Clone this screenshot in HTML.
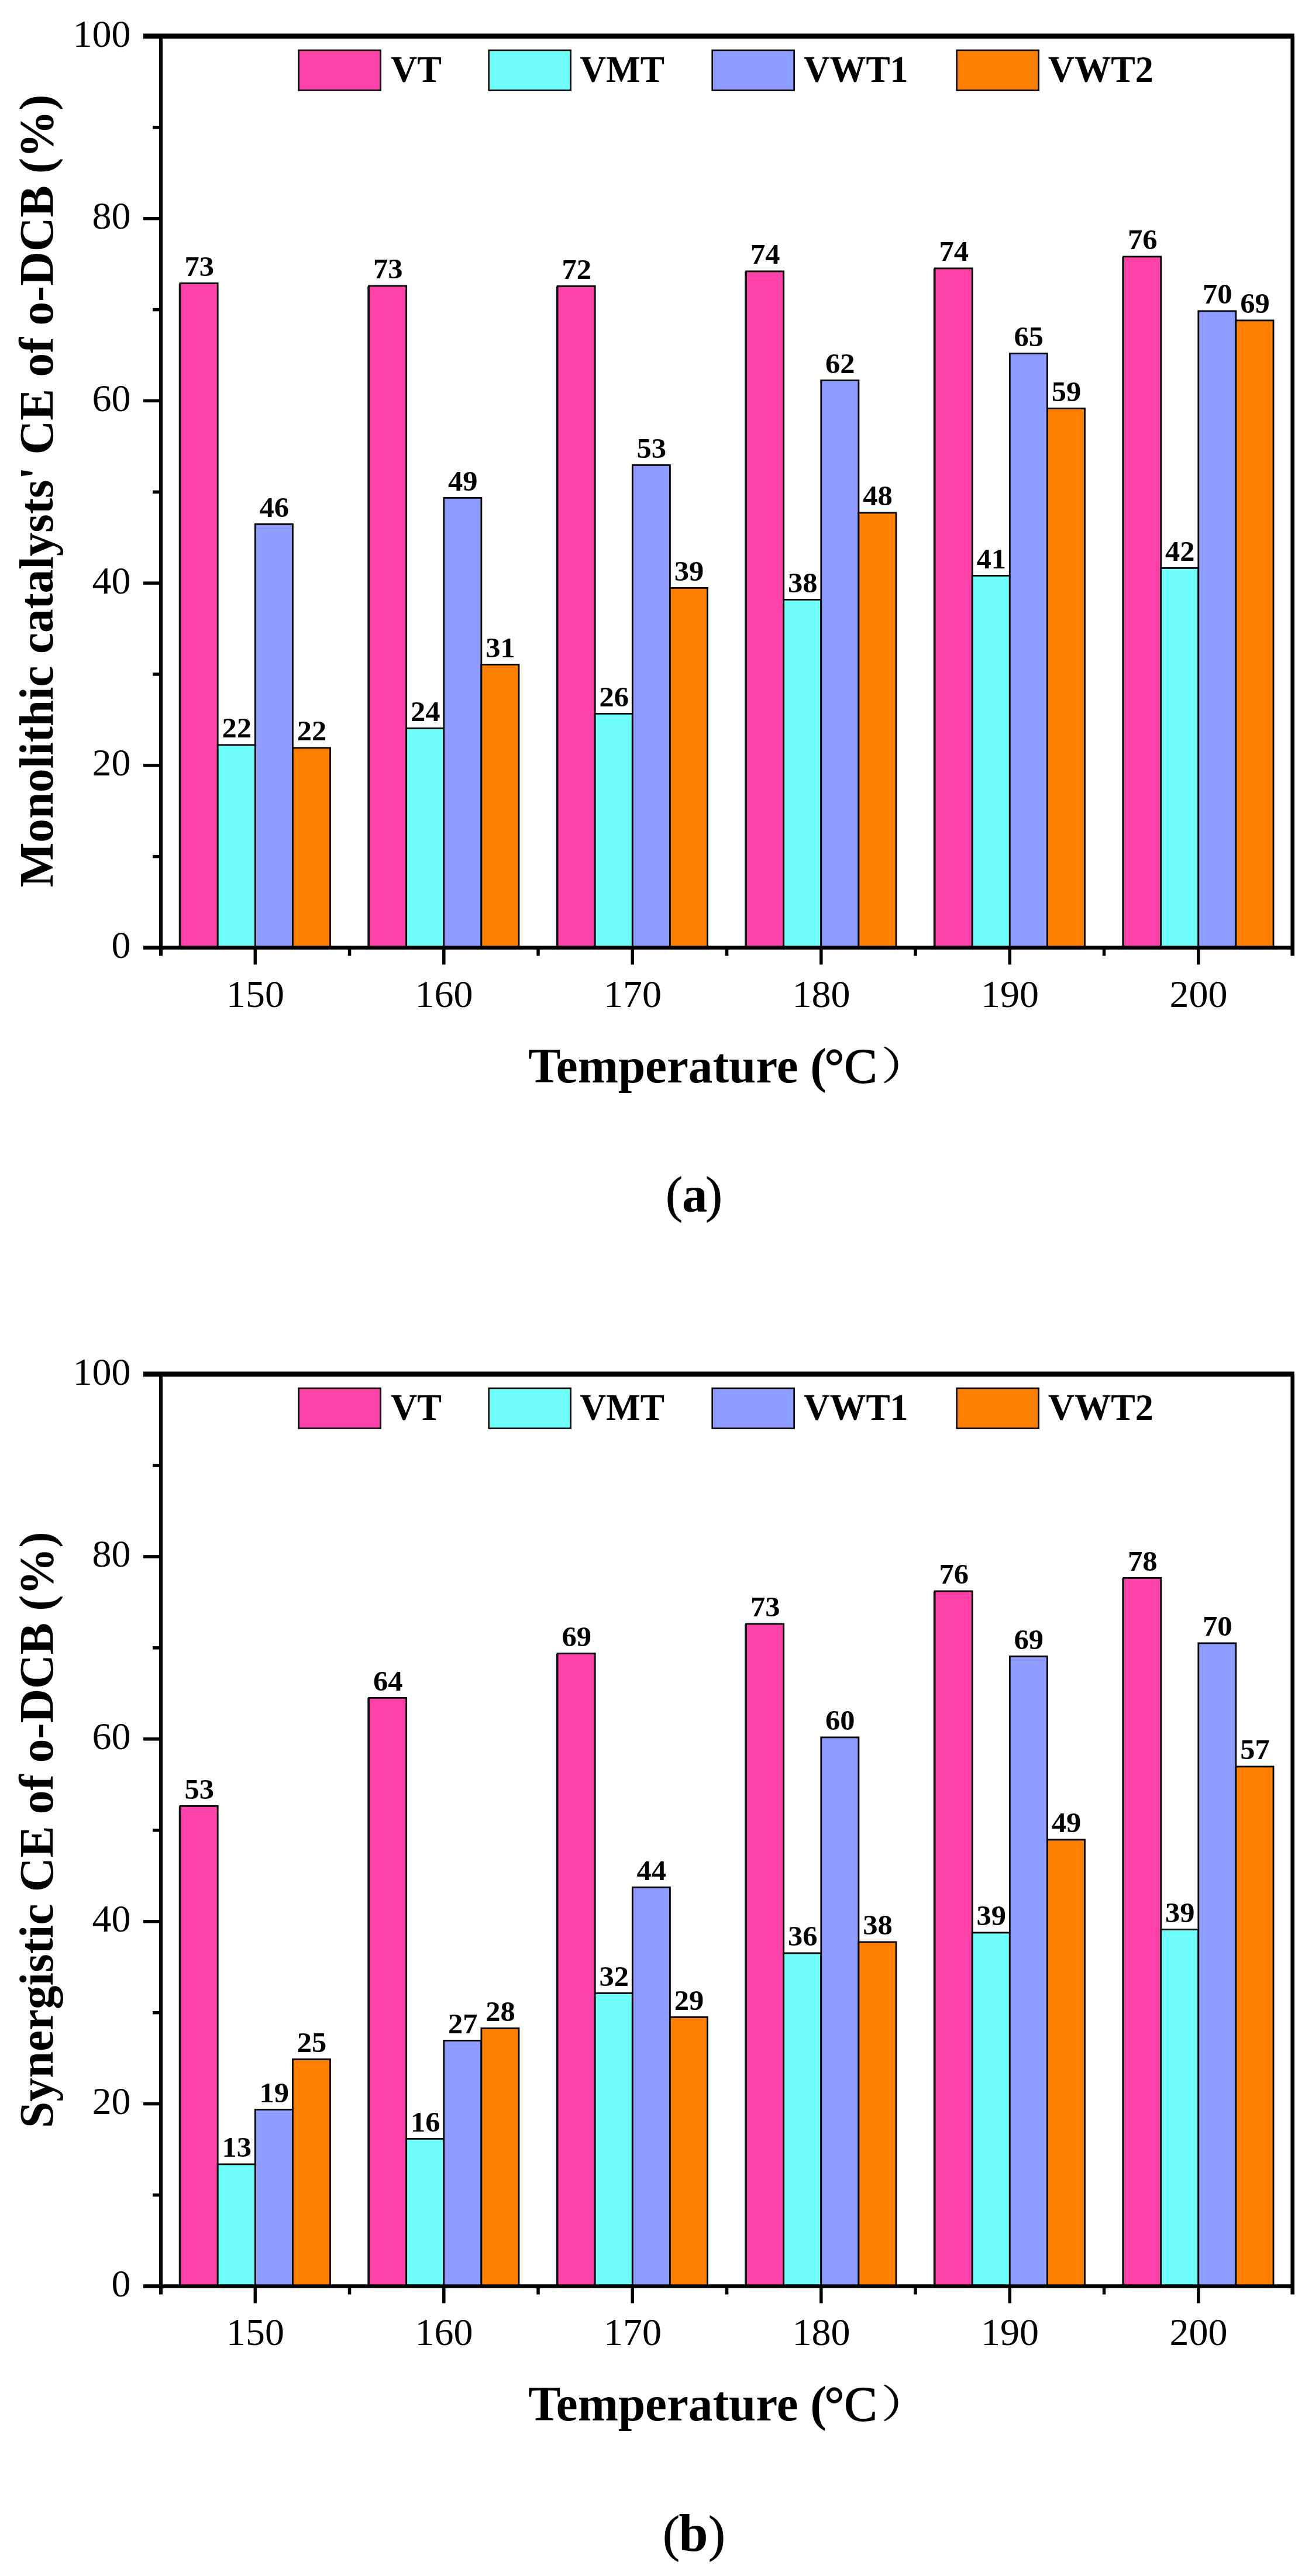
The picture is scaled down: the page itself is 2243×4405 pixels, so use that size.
<!DOCTYPE html>
<html lang="en">
<head>
<meta charset="utf-8">
<title>Catalytic efficiency of o-DCB</title>
<style>
html,body{margin:0;padding:0;background:#fff;}
svg{display:block;}
text{white-space:pre;}
</style>
</head>
<body>
<svg width="2243" height="4405" viewBox="0 0 2243 4405">
<rect width="2243" height="4405" fill="#fff"/>
<g id="chart-a">
<rect x="308.1" y="484.4" width="64.1" height="1136.1" fill="#FF42AA" stroke="#000" stroke-width="2.8"/>
<rect x="372.2" y="1273.9" width="64.1" height="346.6" fill="#70FFFA" stroke="#000" stroke-width="2.8"/>
<rect x="436.3" y="896.4" width="64.1" height="724.1" fill="#8F9CFF" stroke="#000" stroke-width="2.8"/>
<rect x="500.4" y="1278.9" width="64.1" height="341.6" fill="#FF8000" stroke="#000" stroke-width="2.8"/>
<line x1="307.4" y1="485" x2="307.4" y2="1620.5" stroke="#111" stroke-width="3.2"/>
<rect x="630.6" y="488.9" width="64.1" height="1131.6" fill="#FF42AA" stroke="#000" stroke-width="2.8"/>
<rect x="694.7" y="1245.4" width="64.1" height="375.1" fill="#70FFFA" stroke="#000" stroke-width="2.8"/>
<rect x="758.8" y="851.4" width="64.1" height="769.1" fill="#8F9CFF" stroke="#000" stroke-width="2.8"/>
<rect x="822.9" y="1136.4" width="64.1" height="484.1" fill="#FF8000" stroke="#000" stroke-width="2.8"/>
<line x1="629.9" y1="489.5" x2="629.9" y2="1620.5" stroke="#111" stroke-width="3.2"/>
<rect x="953.1" y="489.4" width="64.1" height="1131.1" fill="#FF42AA" stroke="#000" stroke-width="2.8"/>
<rect x="1017.2" y="1220.4" width="64.1" height="400.1" fill="#70FFFA" stroke="#000" stroke-width="2.8"/>
<rect x="1081.3" y="795.4" width="64.1" height="825.1" fill="#8F9CFF" stroke="#000" stroke-width="2.8"/>
<rect x="1145.4" y="1005.4" width="64.1" height="615.1" fill="#FF8000" stroke="#000" stroke-width="2.8"/>
<line x1="952.4" y1="490" x2="952.4" y2="1620.5" stroke="#111" stroke-width="3.2"/>
<rect x="1275.6" y="463.9" width="64.1" height="1156.6" fill="#FF42AA" stroke="#000" stroke-width="2.8"/>
<rect x="1339.7" y="1025.4" width="64.1" height="595.1" fill="#70FFFA" stroke="#000" stroke-width="2.8"/>
<rect x="1403.8" y="650.4" width="64.1" height="970.1" fill="#8F9CFF" stroke="#000" stroke-width="2.8"/>
<rect x="1467.9" y="876.9" width="64.1" height="743.6" fill="#FF8000" stroke="#000" stroke-width="2.8"/>
<line x1="1274.9" y1="464.5" x2="1274.9" y2="1620.5" stroke="#111" stroke-width="3.2"/>
<rect x="1598.1" y="458.9" width="64.1" height="1161.6" fill="#FF42AA" stroke="#000" stroke-width="2.8"/>
<rect x="1662.2" y="984.4" width="64.1" height="636.1" fill="#70FFFA" stroke="#000" stroke-width="2.8"/>
<rect x="1726.3" y="604.4" width="64.1" height="1016.1" fill="#8F9CFF" stroke="#000" stroke-width="2.8"/>
<rect x="1790.4" y="698.4" width="64.1" height="922.1" fill="#FF8000" stroke="#000" stroke-width="2.8"/>
<line x1="1597.4" y1="459.5" x2="1597.4" y2="1620.5" stroke="#111" stroke-width="3.2"/>
<rect x="1920.6" y="438.9" width="64.1" height="1181.6" fill="#FF42AA" stroke="#000" stroke-width="2.8"/>
<rect x="1984.7" y="971.4" width="64.1" height="649.1" fill="#70FFFA" stroke="#000" stroke-width="2.8"/>
<rect x="2048.8" y="531.9" width="64.1" height="1088.6" fill="#8F9CFF" stroke="#000" stroke-width="2.8"/>
<rect x="2112.9" y="547.9" width="64.1" height="1072.6" fill="#FF8000" stroke="#000" stroke-width="2.8"/>
<line x1="1919.9" y1="439.5" x2="1919.9" y2="1620.5" stroke="#111" stroke-width="3.2"/>
<g font-family='"Liberation Serif", "Noto Serif CJK SC", serif' font-weight="bold" font-size="47.5" text-anchor="middle" fill="#000">
<text x="340.65" y="471.5" textLength="50.5" lengthAdjust="spacingAndGlyphs">73</text>
<text x="404.75" y="1261" textLength="50.5" lengthAdjust="spacingAndGlyphs">22</text>
<text x="468.85" y="883.5" textLength="50.5" lengthAdjust="spacingAndGlyphs">46</text>
<text x="532.95" y="1266" textLength="50.5" lengthAdjust="spacingAndGlyphs">22</text>
<text x="663.15" y="476" textLength="50.5" lengthAdjust="spacingAndGlyphs">73</text>
<text x="727.25" y="1232.5" textLength="50.5" lengthAdjust="spacingAndGlyphs">24</text>
<text x="791.35" y="838.5" textLength="50.5" lengthAdjust="spacingAndGlyphs">49</text>
<text x="855.45" y="1123.5" textLength="50.5" lengthAdjust="spacingAndGlyphs">31</text>
<text x="985.65" y="476.5" textLength="50.5" lengthAdjust="spacingAndGlyphs">72</text>
<text x="1049.75" y="1207.5" textLength="50.5" lengthAdjust="spacingAndGlyphs">26</text>
<text x="1113.85" y="782.5" textLength="50.5" lengthAdjust="spacingAndGlyphs">53</text>
<text x="1177.95" y="992.5" textLength="50.5" lengthAdjust="spacingAndGlyphs">39</text>
<text x="1308.15" y="451" textLength="50.5" lengthAdjust="spacingAndGlyphs">74</text>
<text x="1372.25" y="1012.5" textLength="50.5" lengthAdjust="spacingAndGlyphs">38</text>
<text x="1436.35" y="637.5" textLength="50.5" lengthAdjust="spacingAndGlyphs">62</text>
<text x="1500.45" y="864" textLength="50.5" lengthAdjust="spacingAndGlyphs">48</text>
<text x="1630.65" y="446" textLength="50.5" lengthAdjust="spacingAndGlyphs">74</text>
<text x="1694.75" y="971.5" textLength="50.5" lengthAdjust="spacingAndGlyphs">41</text>
<text x="1758.85" y="591.5" textLength="50.5" lengthAdjust="spacingAndGlyphs">65</text>
<text x="1822.95" y="685.5" textLength="50.5" lengthAdjust="spacingAndGlyphs">59</text>
<text x="1953.15" y="426" textLength="50.5" lengthAdjust="spacingAndGlyphs">76</text>
<text x="2017.25" y="958.5" textLength="50.5" lengthAdjust="spacingAndGlyphs">42</text>
<text x="2081.35" y="519" textLength="50.5" lengthAdjust="spacingAndGlyphs">70</text>
<text x="2145.45" y="535" textLength="50.5" lengthAdjust="spacingAndGlyphs">69</text>
</g>
<g stroke="#000" fill="none" stroke-linecap="butt">
<line x1="245" y1="61.7" x2="2212.7" y2="61.7" stroke-width="8.4"/>
<line x1="245" y1="1620.5" x2="2212.7" y2="1620.5" stroke-width="6.6"/>
<line x1="275" y1="62" x2="275" y2="1634.5" stroke-width="6.0"/>
<line x1="2209.7" y1="62" x2="2209.7" y2="1634.5" stroke-width="6.6"/>
<line x1="261" y1="1464.65" x2="275" y2="1464.65" stroke-width="5.5"/>
<line x1="245" y1="1308.8" x2="275" y2="1308.8" stroke-width="5.5"/>
<line x1="261" y1="1152.95" x2="275" y2="1152.95" stroke-width="5.5"/>
<line x1="245" y1="997.1" x2="275" y2="997.1" stroke-width="5.5"/>
<line x1="261" y1="841.25" x2="275" y2="841.25" stroke-width="5.5"/>
<line x1="245" y1="685.4" x2="275" y2="685.4" stroke-width="5.5"/>
<line x1="261" y1="529.55" x2="275" y2="529.55" stroke-width="5.5"/>
<line x1="245" y1="373.7" x2="275" y2="373.7" stroke-width="5.5"/>
<line x1="261" y1="217.85" x2="275" y2="217.85" stroke-width="5.5"/>
<line x1="436.3" y1="1620.5" x2="436.3" y2="1649.5" stroke-width="5.5"/>
<line x1="597.55" y1="1620.5" x2="597.55" y2="1634.5" stroke-width="5.5"/>
<line x1="758.8" y1="1620.5" x2="758.8" y2="1649.5" stroke-width="5.5"/>
<line x1="920.05" y1="1620.5" x2="920.05" y2="1634.5" stroke-width="5.5"/>
<line x1="1081.3" y1="1620.5" x2="1081.3" y2="1649.5" stroke-width="5.5"/>
<line x1="1242.55" y1="1620.5" x2="1242.55" y2="1634.5" stroke-width="5.5"/>
<line x1="1403.8" y1="1620.5" x2="1403.8" y2="1649.5" stroke-width="5.5"/>
<line x1="1565.05" y1="1620.5" x2="1565.05" y2="1634.5" stroke-width="5.5"/>
<line x1="1726.3" y1="1620.5" x2="1726.3" y2="1649.5" stroke-width="5.5"/>
<line x1="1887.55" y1="1620.5" x2="1887.55" y2="1634.5" stroke-width="5.5"/>
<line x1="2048.8" y1="1620.5" x2="2048.8" y2="1649.5" stroke-width="5.5"/>
</g>
<g font-family='"Liberation Serif", "Noto Serif CJK SC", serif' font-size="66" fill="#000">
<text x="223.5" y="1638" text-anchor="end">0</text>
<text x="223.5" y="1326.3" text-anchor="end">20</text>
<text x="223.5" y="1014.6" text-anchor="end">40</text>
<text x="223.5" y="702.9" text-anchor="end">60</text>
<text x="223.5" y="391.2" text-anchor="end">80</text>
<text x="223.5" y="79.5" text-anchor="end">100</text>
<text x="436.6" y="1722" text-anchor="middle">150</text>
<text x="759.1" y="1722" text-anchor="middle">160</text>
<text x="1081.6" y="1722" text-anchor="middle">170</text>
<text x="1404.1" y="1722" text-anchor="middle">180</text>
<text x="1726.6" y="1722" text-anchor="middle">190</text>
<text x="2049.1" y="1722" text-anchor="middle">200</text>
</g>
<g font-family='"Liberation Serif", "Noto Serif CJK SC", serif' font-weight="bold" font-size="64" fill="#000">
<rect x="510.7" y="85.9" width="139.9" height="68.6" fill="#FF42AA" stroke="#000" stroke-width="2.6"/>
<text x="668" y="140" textLength="87" lengthAdjust="spacingAndGlyphs">VT</text>
<rect x="835.7" y="85.9" width="139.9" height="68.6" fill="#70FFFA" stroke="#000" stroke-width="2.6"/>
<text x="991.5" y="140" textLength="144.5" lengthAdjust="spacingAndGlyphs">VMT</text>
<rect x="1217.7" y="85.9" width="139.9" height="68.6" fill="#8F9CFF" stroke="#000" stroke-width="2.6"/>
<text x="1374" y="140" textLength="178.5" lengthAdjust="spacingAndGlyphs">VWT1</text>
<rect x="1635.7" y="85.9" width="139.9" height="68.6" fill="#FF8000" stroke="#000" stroke-width="2.6"/>
<text x="1792" y="140" textLength="180" lengthAdjust="spacingAndGlyphs">VWT2</text>
</g>
<g font-family='"Liberation Serif", "Noto Serif CJK SC", serif' font-weight="bold" font-size="84.6" fill="#000">
<text transform="translate(89.5 839.55) rotate(-90)" font-size="82" text-anchor="middle" textLength="1355.5" lengthAdjust="spacingAndGlyphs">Monolithic catalysts' CE of o-DCB (%)</text>
<text x="903" y="1850.5" textLength="510" lengthAdjust="spacingAndGlyphs">Temperature (</text>
<text x="1409.5" y="1851.5" font-weight="normal" font-size="84.6" stroke="#000" stroke-width="1.4">°C</text>
<text x="1506.5" y="1846" font-weight="normal" font-size="66" textLength="82" lengthAdjust="spacingAndGlyphs" stroke="#000" stroke-width="0.6" font-family='"Noto Serif CJK SC", "Liberation Serif", serif'>）</text>
</g>
<g font-family='"Liberation Serif", "Noto Serif CJK SC", serif' font-size="87" fill="#000" stroke="#000" stroke-width="0.7">
<text x="1138" y="2072">(</text>
<text x="1166" y="2072" font-size="87" font-weight="bold" stroke="none">a</text>
<text x="1206" y="2072">)</text>
</g>
</g>
<g id="chart-b" transform="translate(0 2288)">
<rect x="308.1" y="800.4" width="64.1" height="821.1" fill="#FF42AA" stroke="#000" stroke-width="2.8"/>
<rect x="372.2" y="1412.9" width="64.1" height="208.6" fill="#70FFFA" stroke="#000" stroke-width="2.8"/>
<rect x="436.3" y="1319.4" width="64.1" height="302.1" fill="#8F9CFF" stroke="#000" stroke-width="2.8"/>
<rect x="500.4" y="1233.4" width="64.1" height="388.1" fill="#FF8000" stroke="#000" stroke-width="2.8"/>
<line x1="307.4" y1="801" x2="307.4" y2="1621.5" stroke="#111" stroke-width="3.2"/>
<rect x="630.6" y="615.4" width="64.1" height="1006.1" fill="#FF42AA" stroke="#000" stroke-width="2.8"/>
<rect x="694.7" y="1369.4" width="64.1" height="252.1" fill="#70FFFA" stroke="#000" stroke-width="2.8"/>
<rect x="758.8" y="1201.4" width="64.1" height="420.1" fill="#8F9CFF" stroke="#000" stroke-width="2.8"/>
<rect x="822.9" y="1180.4" width="64.1" height="441.1" fill="#FF8000" stroke="#000" stroke-width="2.8"/>
<line x1="629.9" y1="616" x2="629.9" y2="1621.5" stroke="#111" stroke-width="3.2"/>
<rect x="953.1" y="539.4" width="64.1" height="1082.1" fill="#FF42AA" stroke="#000" stroke-width="2.8"/>
<rect x="1017.2" y="1120.4" width="64.1" height="501.1" fill="#70FFFA" stroke="#000" stroke-width="2.8"/>
<rect x="1081.3" y="939.4" width="64.1" height="682.1" fill="#8F9CFF" stroke="#000" stroke-width="2.8"/>
<rect x="1145.4" y="1161.4" width="64.1" height="460.1" fill="#FF8000" stroke="#000" stroke-width="2.8"/>
<line x1="952.4" y1="540" x2="952.4" y2="1621.5" stroke="#111" stroke-width="3.2"/>
<rect x="1275.6" y="488.9" width="64.1" height="1132.6" fill="#FF42AA" stroke="#000" stroke-width="2.8"/>
<rect x="1339.7" y="1051.9" width="64.1" height="569.6" fill="#70FFFA" stroke="#000" stroke-width="2.8"/>
<rect x="1403.8" y="682.9" width="64.1" height="938.6" fill="#8F9CFF" stroke="#000" stroke-width="2.8"/>
<rect x="1467.9" y="1032.9" width="64.1" height="588.6" fill="#FF8000" stroke="#000" stroke-width="2.8"/>
<line x1="1274.9" y1="489.5" x2="1274.9" y2="1621.5" stroke="#111" stroke-width="3.2"/>
<rect x="1598.1" y="432.9" width="64.1" height="1188.6" fill="#FF42AA" stroke="#000" stroke-width="2.8"/>
<rect x="1662.2" y="1016.9" width="64.1" height="604.6" fill="#70FFFA" stroke="#000" stroke-width="2.8"/>
<rect x="1726.3" y="544.4" width="64.1" height="1077.1" fill="#8F9CFF" stroke="#000" stroke-width="2.8"/>
<rect x="1790.4" y="857.9" width="64.1" height="763.6" fill="#FF8000" stroke="#000" stroke-width="2.8"/>
<line x1="1597.4" y1="433.5" x2="1597.4" y2="1621.5" stroke="#111" stroke-width="3.2"/>
<rect x="1920.6" y="410.4" width="64.1" height="1211.1" fill="#FF42AA" stroke="#000" stroke-width="2.8"/>
<rect x="1984.7" y="1011.4" width="64.1" height="610.1" fill="#70FFFA" stroke="#000" stroke-width="2.8"/>
<rect x="2048.8" y="521.9" width="64.1" height="1099.6" fill="#8F9CFF" stroke="#000" stroke-width="2.8"/>
<rect x="2112.9" y="732.9" width="64.1" height="888.6" fill="#FF8000" stroke="#000" stroke-width="2.8"/>
<line x1="1919.9" y1="411" x2="1919.9" y2="1621.5" stroke="#111" stroke-width="3.2"/>
<g font-family='"Liberation Serif", "Noto Serif CJK SC", serif' font-weight="bold" font-size="47.5" text-anchor="middle" fill="#000">
<text x="340.65" y="787.5" textLength="50.5" lengthAdjust="spacingAndGlyphs">53</text>
<text x="404.75" y="1400" textLength="50.5" lengthAdjust="spacingAndGlyphs">13</text>
<text x="468.85" y="1306.5" textLength="50.5" lengthAdjust="spacingAndGlyphs">19</text>
<text x="532.95" y="1220.5" textLength="50.5" lengthAdjust="spacingAndGlyphs">25</text>
<text x="663.15" y="602.5" textLength="50.5" lengthAdjust="spacingAndGlyphs">64</text>
<text x="727.25" y="1356.5" textLength="50.5" lengthAdjust="spacingAndGlyphs">16</text>
<text x="791.35" y="1188.5" textLength="50.5" lengthAdjust="spacingAndGlyphs">27</text>
<text x="855.45" y="1167.5" textLength="50.5" lengthAdjust="spacingAndGlyphs">28</text>
<text x="985.65" y="526.5" textLength="50.5" lengthAdjust="spacingAndGlyphs">69</text>
<text x="1049.75" y="1107.5" textLength="50.5" lengthAdjust="spacingAndGlyphs">32</text>
<text x="1113.85" y="926.5" textLength="50.5" lengthAdjust="spacingAndGlyphs">44</text>
<text x="1177.95" y="1148.5" textLength="50.5" lengthAdjust="spacingAndGlyphs">29</text>
<text x="1308.15" y="476" textLength="50.5" lengthAdjust="spacingAndGlyphs">73</text>
<text x="1372.25" y="1039" textLength="50.5" lengthAdjust="spacingAndGlyphs">36</text>
<text x="1436.35" y="670" textLength="50.5" lengthAdjust="spacingAndGlyphs">60</text>
<text x="1500.45" y="1020" textLength="50.5" lengthAdjust="spacingAndGlyphs">38</text>
<text x="1630.65" y="420" textLength="50.5" lengthAdjust="spacingAndGlyphs">76</text>
<text x="1694.75" y="1004" textLength="50.5" lengthAdjust="spacingAndGlyphs">39</text>
<text x="1758.85" y="531.5" textLength="50.5" lengthAdjust="spacingAndGlyphs">69</text>
<text x="1822.95" y="845" textLength="50.5" lengthAdjust="spacingAndGlyphs">49</text>
<text x="1953.15" y="397.5" textLength="50.5" lengthAdjust="spacingAndGlyphs">78</text>
<text x="2017.25" y="998.5" textLength="50.5" lengthAdjust="spacingAndGlyphs">39</text>
<text x="2081.35" y="509" textLength="50.5" lengthAdjust="spacingAndGlyphs">70</text>
<text x="2145.45" y="720" textLength="50.5" lengthAdjust="spacingAndGlyphs">57</text>
</g>
<g stroke="#000" fill="none" stroke-linecap="butt">
<line x1="245" y1="61.7" x2="2212.7" y2="61.7" stroke-width="8.4"/>
<line x1="245" y1="1621.5" x2="2212.7" y2="1621.5" stroke-width="6.6"/>
<line x1="275" y1="62" x2="275" y2="1635.5" stroke-width="6.0"/>
<line x1="2209.7" y1="62" x2="2209.7" y2="1635.5" stroke-width="6.6"/>
<line x1="261" y1="1465.55" x2="275" y2="1465.55" stroke-width="5.5"/>
<line x1="245" y1="1309.6" x2="275" y2="1309.6" stroke-width="5.5"/>
<line x1="261" y1="1153.65" x2="275" y2="1153.65" stroke-width="5.5"/>
<line x1="245" y1="997.7" x2="275" y2="997.7" stroke-width="5.5"/>
<line x1="261" y1="841.75" x2="275" y2="841.75" stroke-width="5.5"/>
<line x1="245" y1="685.8" x2="275" y2="685.8" stroke-width="5.5"/>
<line x1="261" y1="529.85" x2="275" y2="529.85" stroke-width="5.5"/>
<line x1="245" y1="373.9" x2="275" y2="373.9" stroke-width="5.5"/>
<line x1="261" y1="217.95" x2="275" y2="217.95" stroke-width="5.5"/>
<line x1="436.3" y1="1621.5" x2="436.3" y2="1650.5" stroke-width="5.5"/>
<line x1="597.55" y1="1621.5" x2="597.55" y2="1635.5" stroke-width="5.5"/>
<line x1="758.8" y1="1621.5" x2="758.8" y2="1650.5" stroke-width="5.5"/>
<line x1="920.05" y1="1621.5" x2="920.05" y2="1635.5" stroke-width="5.5"/>
<line x1="1081.3" y1="1621.5" x2="1081.3" y2="1650.5" stroke-width="5.5"/>
<line x1="1242.55" y1="1621.5" x2="1242.55" y2="1635.5" stroke-width="5.5"/>
<line x1="1403.8" y1="1621.5" x2="1403.8" y2="1650.5" stroke-width="5.5"/>
<line x1="1565.05" y1="1621.5" x2="1565.05" y2="1635.5" stroke-width="5.5"/>
<line x1="1726.3" y1="1621.5" x2="1726.3" y2="1650.5" stroke-width="5.5"/>
<line x1="1887.55" y1="1621.5" x2="1887.55" y2="1635.5" stroke-width="5.5"/>
<line x1="2048.8" y1="1621.5" x2="2048.8" y2="1650.5" stroke-width="5.5"/>
</g>
<g font-family='"Liberation Serif", "Noto Serif CJK SC", serif' font-size="66" fill="#000">
<text x="223.5" y="1639" text-anchor="end">0</text>
<text x="223.5" y="1327.1" text-anchor="end">20</text>
<text x="223.5" y="1015.2" text-anchor="end">40</text>
<text x="223.5" y="703.3" text-anchor="end">60</text>
<text x="223.5" y="391.4" text-anchor="end">80</text>
<text x="223.5" y="79.5" text-anchor="end">100</text>
<text x="436.6" y="1722" text-anchor="middle">150</text>
<text x="759.1" y="1722" text-anchor="middle">160</text>
<text x="1081.6" y="1722" text-anchor="middle">170</text>
<text x="1404.1" y="1722" text-anchor="middle">180</text>
<text x="1726.6" y="1722" text-anchor="middle">190</text>
<text x="2049.1" y="1722" text-anchor="middle">200</text>
</g>
<g font-family='"Liberation Serif", "Noto Serif CJK SC", serif' font-weight="bold" font-size="64" fill="#000">
<rect x="510.7" y="85.9" width="139.9" height="68.6" fill="#FF42AA" stroke="#000" stroke-width="2.6"/>
<text x="668" y="140" textLength="87" lengthAdjust="spacingAndGlyphs">VT</text>
<rect x="835.7" y="85.9" width="139.9" height="68.6" fill="#70FFFA" stroke="#000" stroke-width="2.6"/>
<text x="991.5" y="140" textLength="144.5" lengthAdjust="spacingAndGlyphs">VMT</text>
<rect x="1217.7" y="85.9" width="139.9" height="68.6" fill="#8F9CFF" stroke="#000" stroke-width="2.6"/>
<text x="1374" y="140" textLength="178.5" lengthAdjust="spacingAndGlyphs">VWT1</text>
<rect x="1635.7" y="85.9" width="139.9" height="68.6" fill="#FF8000" stroke="#000" stroke-width="2.6"/>
<text x="1792" y="140" textLength="180" lengthAdjust="spacingAndGlyphs">VWT2</text>
</g>
<g font-family='"Liberation Serif", "Noto Serif CJK SC", serif' font-weight="bold" font-size="84.6" fill="#000">
<text transform="translate(89.5 841.25) rotate(-90)" font-size="82" text-anchor="middle" textLength="1019.5" lengthAdjust="spacingAndGlyphs">Synergistic CE of o-DCB (%)</text>
<text x="903" y="1850.5" textLength="510" lengthAdjust="spacingAndGlyphs">Temperature (</text>
<text x="1409.5" y="1851.5" font-weight="normal" font-size="84.6" stroke="#000" stroke-width="1.4">°C</text>
<text x="1506.5" y="1846" font-weight="normal" font-size="66" textLength="82" lengthAdjust="spacingAndGlyphs" stroke="#000" stroke-width="0.6" font-family='"Noto Serif CJK SC", "Liberation Serif", serif'>）</text>
</g>
<g font-family='"Liberation Serif", "Noto Serif CJK SC", serif' font-size="87" fill="#000" stroke="#000" stroke-width="0.7">
<text x="1133" y="2073.5">(</text>
<text x="1160.5" y="2074" font-size="90" font-weight="bold" stroke="none">b</text>
<text x="1211" y="2073.5">)</text>
</g>
</g>
</svg>
</body>
</html>
